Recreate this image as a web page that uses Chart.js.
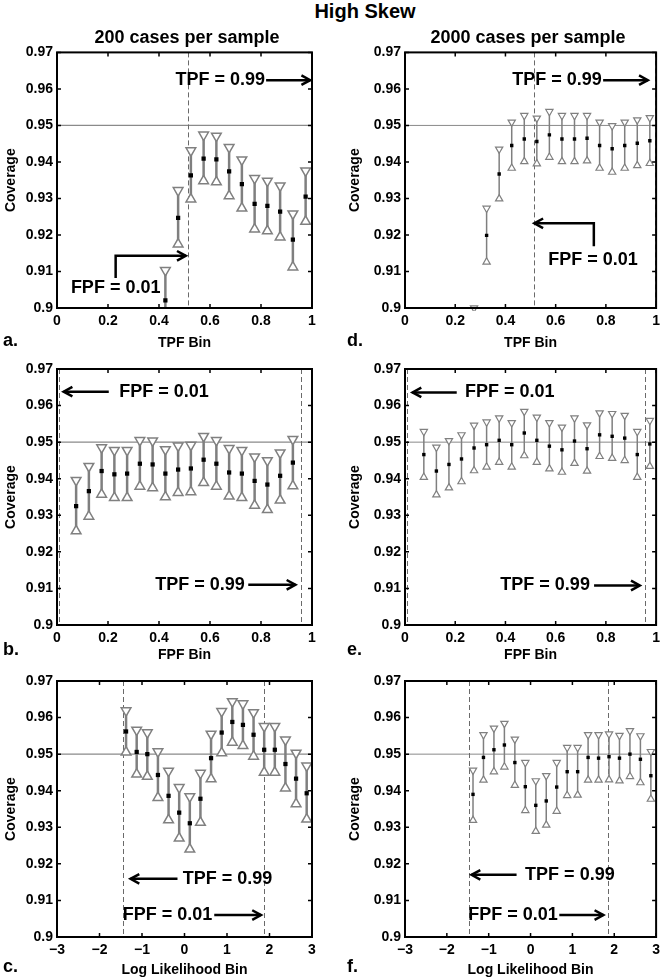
<!DOCTYPE html>
<html>
<head>
<meta charset="utf-8">
<script src="https://cdn.jsdelivr.net/npm/chart.js@4.4.1/dist/chart.umd.min.js"></script>
<style>
  body { margin: 0; background: #fff; }
  #page { position: relative; width: 665px; height: 979px; font-family: "Liberation Sans", Arial, sans-serif; font-weight: bold; }
  canvas { position: absolute; }
  .t { position: absolute; white-space: nowrap; transform: translate(-50%, -50%); color: #000; }
</style>
</head>
<body>
<div id="page">
  <canvas id="pa"></canvas>
  <canvas id="pd"></canvas>
  <canvas id="pb"></canvas>
  <canvas id="pe"></canvas>
  <canvas id="pc"></canvas>
  <canvas id="pf"></canvas>
  <div class="t" style="left:365px;top:11px;font-size:20px">High Skew</div>
  <div class="t" style="left:187px;top:37px;font-size:18px">200 cases per sample</div>
  <div class="t" style="left:528px;top:37px;font-size:18px">2000 cases per sample</div>
</div>
<script>
// tick labels
var yTicks = [0.9, 0.91, 0.92, 0.93, 0.94, 0.95, 0.96, 0.97]
var yLabels = ['0.9', '0.91', '0.92', '0.93', '0.94', '0.95', '0.96', '0.97']
var binTicks = [0, 0.2, 0.4, 0.6, 0.8, 1]
var binLabels = ['0', '0.2', '0.4', '0.6', '0.8', '1']
var llTicks = [-3, -2, -1, 0, 1, 2, 3]
var llLabels = ['\u22123', '\u22122', '\u22121', '0', '1', '2', '3']

// bin centres
var aBins = [0.425, 0.475, 0.525, 0.575, 0.625, 0.675, 0.725, 0.775, 0.825, 0.875, 0.925, 0.975]
var dBins = [0.275, 0.325, 0.375, 0.425, 0.475, 0.525, 0.575, 0.625, 0.675, 0.725, 0.775, 0.825, 0.875, 0.925, 0.975]
var bBins = [0.075, 0.125, 0.175, 0.225, 0.275, 0.325, 0.375, 0.425, 0.475, 0.525, 0.575, 0.625, 0.675, 0.725, 0.775, 0.825, 0.875, 0.925]
var eBins = [0.075, 0.125, 0.175, 0.225, 0.275, 0.325, 0.375, 0.425, 0.475, 0.525, 0.575, 0.625, 0.675, 0.725, 0.775, 0.825, 0.875, 0.925, 0.975]
var llBins = [-1.375, -1.125, -0.875, -0.625, -0.375, -0.125, 0.125, 0.375, 0.625, 0.875, 1.125, 1.375, 1.625, 1.875, 2.125, 2.375, 2.625, 2.875]

// a. 200 cases, TPF bin
var aCov = [0.9021, 0.9247, 0.9363, 0.9409, 0.9407, 0.9374, 0.9339, 0.9285, 0.9280, 0.9264, 0.9187, 0.9305]
var aUp = [0.9103, 0.9322, 0.9431, 0.9474, 0.9471, 0.9440, 0.9406, 0.9355, 0.9348, 0.9335, 0.9258, 0.9376]
var aLo = [0.8940, 0.9175, 0.9298, 0.9348, 0.9345, 0.9307, 0.9273, 0.9216, 0.9211, 0.9194, 0.9112, 0.9237]
// d. 2000 cases, TPF bin
var dCov = [0.8930, 0.9199, 0.9367, 0.9445, 0.9463, 0.9456, 0.9474, 0.9463, 0.9463, 0.9465, 0.9445, 0.9436, 0.9445, 0.9451, 0.9458]
var dUp = [0.9000, 0.9273, 0.9435, 0.9509, 0.9527, 0.9520, 0.9538, 0.9527, 0.9527, 0.9527, 0.9509, 0.9499, 0.9509, 0.9515, 0.9521]
var dLo = [0.8860, 0.9126, 0.9299, 0.9383, 0.9401, 0.9395, 0.9413, 0.9401, 0.9401, 0.9403, 0.9383, 0.9372, 0.9383, 0.9390, 0.9396]
// b. 200 cases, FPF bin
var bCov = [0.9325, 0.9366, 0.9421, 0.9412, 0.9414, 0.9441, 0.9439, 0.9414, 0.9425, 0.9428, 0.9452, 0.9441, 0.9417, 0.9414, 0.9394, 0.9384, 0.9408, 0.9444]
var bUp = [0.9396, 0.9434, 0.9485, 0.9478, 0.9478, 0.9505, 0.9504, 0.9480, 0.9490, 0.9492, 0.9516, 0.9505, 0.9483, 0.9478, 0.9460, 0.9450, 0.9471, 0.9508]
var bLo = [0.9257, 0.9297, 0.9357, 0.9348, 0.9348, 0.9379, 0.9375, 0.9350, 0.9362, 0.9364, 0.9389, 0.9379, 0.9352, 0.9348, 0.9327, 0.9315, 0.9341, 0.9380]
// e. 2000 cases, FPF bin
var eCov = [0.9466, 0.9421, 0.9439, 0.9454, 0.9484, 0.9493, 0.9505, 0.9493, 0.9525, 0.9505, 0.9489, 0.9479, 0.9503, 0.9482, 0.9520, 0.9516, 0.9511, 0.9466, 0.9495]
var eUp = [0.9529, 0.9486, 0.9504, 0.9520, 0.9546, 0.9555, 0.9566, 0.9553, 0.9584, 0.9568, 0.9553, 0.9541, 0.9566, 0.9547, 0.9580, 0.9578, 0.9573, 0.9529, 0.9559]
var eLo = [0.9404, 0.9356, 0.9375, 0.9392, 0.9422, 0.9432, 0.9445, 0.9432, 0.9463, 0.9445, 0.9427, 0.9418, 0.9442, 0.9421, 0.9461, 0.9456, 0.9450, 0.9404, 0.9434]
// c. 200 cases, log likelihood bin
var cCov = [0.9562, 0.9506, 0.9500, 0.9443, 0.9386, 0.9340, 0.9311, 0.9378, 0.9489, 0.9559, 0.9588, 0.9580, 0.9553, 0.9512, 0.9512, 0.9473, 0.9433, 0.9393]
var cUp = [0.9619, 0.9566, 0.9559, 0.9507, 0.9454, 0.9409, 0.9384, 0.9448, 0.9555, 0.9617, 0.9644, 0.9638, 0.9614, 0.9576, 0.9576, 0.9539, 0.9503, 0.9468]
var cLo = [0.9505, 0.9445, 0.9439, 0.9381, 0.9320, 0.9270, 0.9240, 0.9313, 0.9432, 0.9503, 0.9532, 0.9523, 0.9494, 0.9450, 0.9450, 0.9407, 0.9364, 0.9322]
// f. 2000 cases, log likelihood bin
var fCov = [0.9390, 0.9491, 0.9512, 0.9525, 0.9477, 0.9411, 0.9360, 0.9372, 0.9410, 0.9452, 0.9452, 0.9491, 0.9489, 0.9493, 0.9489, 0.9500, 0.9486, 0.9441]
var fUp = [0.9456, 0.9553, 0.9571, 0.9584, 0.9541, 0.9477, 0.9427, 0.9441, 0.9477, 0.9518, 0.9518, 0.9553, 0.9553, 0.9555, 0.9551, 0.9564, 0.9550, 0.9507]
var fLo = [0.9319, 0.9429, 0.9452, 0.9465, 0.9415, 0.9346, 0.9289, 0.9306, 0.9344, 0.9387, 0.9388, 0.9429, 0.9429, 0.9430, 0.9427, 0.9439, 0.9422, 0.9377]

var FONT = '"Liberation Sans", Arial, sans-serif'
var leftStyle = { bar: 2.5, tri: 5.6, triW: 1.5, sq: 3, line95: 1.2 }
var rightStyle = { bar: 1.5, tri: 4.2, triW: 1.2, sq: 2.4, line95: 1 }

var rows = [
    { top: 40, h: 310, padTop: 12, xTitleY: 303, letterY: 301 },
    { top: 352, h: 312, padTop: 17, xTitleY: 303, letterY: 298 },
    { top: 664, h: 315, padTop: 17, xTitleY: 306, letterY: 303 }
]

var panels = [
    { id: 'pa', row: 0, right: false, letter: 'a.', xTitle: 'TPF Bin', ll: false, bins: aBins, cov: aCov, up: aUp, lo: aLo,
      dashed: [0.515, 0.997],
      notes: [{ text: 'TPF = 0.99', x: 0.64, y: 0.9624 }, { text: 'FPF = 0.01', x: 0.23, y: 0.9055 }],
      arrows: [[[0.82, 0.9624], [0.993, 0.9624]], [[0.23, 0.9082], [0.23, 0.9143], [0.505, 0.9143]]] },
    { id: 'pd', row: 0, right: true, letter: 'd.', xTitle: 'TPF Bin', ll: false, bins: dBins, cov: dCov, up: dUp, lo: dLo,
      dashed: [0.512, 0.995],
      notes: [{ text: 'TPF = 0.99', x: 0.605, y: 0.9624 }, { text: 'FPF = 0.01', x: 0.749, y: 0.9132 }],
      arrows: [[[0.789, 0.9624], [0.967, 0.9624]], [[0.752, 0.9169], [0.752, 0.9232], [0.515, 0.9232]]] },
    { id: 'pb', row: 1, right: false, letter: 'b.', xTitle: 'FPF Bin', ll: false, bins: bBins, cov: bCov, up: bUp, lo: bLo,
      dashed: [0.007, 0.957],
      notes: [{ text: 'FPF = 0.01', x: 0.42, y: 0.9638 }, { text: 'TPF = 0.99', x: 0.561, y: 0.911 }],
      arrows: [[[0.203, 0.9638], [0.026, 0.9638]], [[0.75, 0.911], [0.935, 0.911]]] },
    { id: 'pe', row: 1, right: true, letter: 'e.', xTitle: 'FPF Bin', ll: false, bins: eBins, cov: eCov, up: eUp, lo: eLo,
      dashed: [0.007, 0.957],
      notes: [{ text: 'FPF = 0.01', x: 0.417, y: 0.9636 }, { text: 'TPF = 0.99', x: 0.558, y: 0.9108 }],
      arrows: [[[0.206, 0.9636], [0.03, 0.9636]], [[0.753, 0.9108], [0.935, 0.9108]]] },
    { id: 'pc', row: 2, right: false, letter: 'c.', xTitle: 'Log Likelihood Bin', ll: true, bins: llBins, cov: cCov, up: cUp, lo: cLo,
      dashed: [-1.45, 1.87],
      notes: [{ text: 'TPF = 0.99', x: 1.01, y: 0.9159 }, { text: 'FPF = 0.01', x: -0.40, y: 0.906 }],
      arrows: [[[-0.165, 0.9159], [-1.27, 0.9159]], [[0.70, 0.906], [1.80, 0.906]]] },
    { id: 'pf', row: 2, right: true, letter: 'f.', xTitle: 'Log Likelihood Bin', ll: true, bins: llBins, cov: fCov, up: fUp, lo: fLo,
      dashed: [-1.47, 1.85],
      notes: [{ text: 'TPF = 0.99', x: 0.94, y: 0.917 }, { text: 'FPF = 0.01', x: -0.42, y: 0.906 }],
      arrows: [[[-0.334, 0.917], [-1.41, 0.917]], [[0.687, 0.906], [1.74, 0.906]]] }
]

function pts(xs, ys) {
    var out = []
    for (var i = 0; i < xs.length; i++) {
        out.push({ x: xs[i], y: ys[i] })
    }
    return out
}

function drawArrow(ctx, xs, ys, a) {
    var p = a.map(function (q) { return [xs.getPixelForValue(q[0]), ys.getPixelForValue(q[1])] })
    ctx.beginPath()
    ctx.moveTo(p[0][0], p[0][1])
    for (var i = 1; i < p.length; i++) ctx.lineTo(p[i][0], p[i][1])
    ctx.stroke()
    var e = p[p.length - 1], s = p[p.length - 2]
    var ang = Math.atan2(e[1] - s[1], e[0] - s[0])
    ctx.beginPath()
    ctx.moveTo(e[0] - 10 * Math.cos(ang - 0.5), e[1] - 10 * Math.sin(ang - 0.5))
    ctx.lineTo(e[0], e[1])
    ctx.lineTo(e[0] - 10 * Math.cos(ang + 0.5), e[1] - 10 * Math.sin(ang + 0.5))
    ctx.stroke()
}

function makePanel(p) {
    var r = rows[p.row]
    var st = p.right ? rightStyle : leftStyle
    var cv = document.getElementById(p.id)
    cv.width = 330
    cv.height = r.h
    cv.style.left = (p.right ? 335 : 0) + 'px'
    cv.style.top = r.top + 'px'
    var yW = p.right ? 70 : 57
    var padRight = p.right ? 5 : 18
    var xTicks = p.ll ? llTicks : binTicks
    var xLabels = p.ll ? llLabels : binLabels

    var panelPlugin = {
        id: 'panel' + p.id,
        beforeDatasetsDraw: function (chart) {
            var ctx = chart.ctx, a = chart.chartArea, xs = chart.scales.x, ys = chart.scales.y
            ctx.save()
            ctx.beginPath()
            ctx.rect(a.left, a.top, a.right - a.left, a.bottom - a.top)
            ctx.clip()
            var y95 = ys.getPixelForValue(0.95)
            ctx.strokeStyle = '#8a8a8a'
            ctx.lineWidth = st.line95
            ctx.beginPath()
            ctx.moveTo(a.left, y95)
            ctx.lineTo(a.right, y95)
            ctx.stroke()
            ctx.setLineDash([5, 3])
            ctx.strokeStyle = '#6a6a6a'
            ctx.lineWidth = 1
            p.dashed.forEach(function (v) {
                var x = Math.round(xs.getPixelForValue(v)) + 0.5
                ctx.beginPath()
                ctx.moveTo(x, a.top)
                ctx.lineTo(x, a.bottom)
                ctx.stroke()
            })
            ctx.setLineDash([])
            ctx.strokeStyle = '#7f7f7f'
            ctx.lineWidth = st.bar
            for (var i = 0; i < p.bins.length; i++) {
                var x = xs.getPixelForValue(p.bins[i])
                ctx.beginPath()
                ctx.moveTo(x, ys.getPixelForValue(p.lo[i]))
                ctx.lineTo(x, ys.getPixelForValue(p.up[i]))
                ctx.stroke()
            }
            ctx.restore()
        },
        afterDraw: function (chart) {
            var ctx = chart.ctx, a = chart.chartArea, xs = chart.scales.x, ys = chart.scales.y
            ctx.save()
            ctx.strokeStyle = '#000'
            ctx.lineWidth = 1.5
            yTicks.forEach(function (v) {
                var y = ys.getPixelForValue(v)
                ctx.beginPath()
                ctx.moveTo(a.left, y); ctx.lineTo(a.left + 4, y)
                ctx.moveTo(a.right, y); ctx.lineTo(a.right - 4, y)
                ctx.stroke()
            })
            xTicks.forEach(function (v) {
                var x = xs.getPixelForValue(v)
                ctx.beginPath()
                ctx.moveTo(x, a.bottom); ctx.lineTo(x, a.bottom - 4)
                ctx.moveTo(x, a.top); ctx.lineTo(x, a.top + 4)
                ctx.stroke()
            })
            ctx.lineWidth = 2
            ctx.strokeRect(a.left, a.top, a.right - a.left, a.bottom - a.top)

            ctx.fillStyle = '#000'
            ctx.font = 'bold 18px ' + FONT
            ctx.textAlign = 'center'
            ctx.textBaseline = 'middle'
            p.notes.forEach(function (n) {
                ctx.fillText(n.text, xs.getPixelForValue(n.x), ys.getPixelForValue(n.y))
            })
            ctx.lineWidth = 2.5
            p.arrows.forEach(function (ar) { drawArrow(ctx, xs, ys, ar) })

            ctx.font = 'bold 14px ' + FONT
            ctx.fillText(p.xTitle, (a.left + a.right) / 2, r.xTitleY)
            ctx.save()
            ctx.translate(p.right ? 20 : 11, (a.top + a.bottom) / 2)
            ctx.rotate(-Math.PI / 2)
            ctx.fillText('Coverage', 0, 0)
            ctx.restore()

            ctx.font = 'bold 18px ' + FONT
            ctx.textAlign = 'left'
            ctx.fillText(p.letter, p.right ? 12 : 3, r.letterY)
            ctx.restore()
        }
    }

    new Chart(cv, {
        type: 'scatter',
        data: {
            datasets: [
                { data: pts(p.bins, p.lo), pointStyle: 'triangle', pointRadius: st.tri, pointBorderWidth: st.triW,
                  pointBorderColor: '#808080', pointBackgroundColor: '#fff', clip: 3 },
                { data: pts(p.bins, p.up), pointStyle: 'triangle', pointRotation: 180, pointRadius: st.tri, pointBorderWidth: st.triW,
                  pointBorderColor: '#808080', pointBackgroundColor: '#fff', clip: 3 },
                { data: pts(p.bins, p.cov), pointStyle: 'rect', pointRadius: st.sq, pointBorderWidth: 0,
                  pointBackgroundColor: '#000', pointBorderColor: '#000', clip: 0 }
            ]
        },
        options: {
            responsive: false,
            animation: false,
            devicePixelRatio: 1,
            events: [],
            layout: { padding: { top: r.padTop, right: padRight, left: 0, bottom: 0 } },
            plugins: { legend: { display: false }, tooltip: { enabled: false } },
            scales: {
                x: {
                    type: 'linear',
                    min: xTicks[0],
                    max: xTicks[xTicks.length - 1],
                    afterBuildTicks: function (s) { s.ticks = xTicks.map(function (v) { return { value: v } }) },
                    afterFit: function (s) { s.height = r.h - r.padTop - 256 },
                    grid: { display: false, drawTicks: false },
                    border: { display: false },
                    ticks: {
                        padding: 5,
                        color: '#000',
                        maxRotation: 0,
                        autoSkip: false,
                        font: { family: FONT, size: 14, weight: 'bold' },
                        callback: function (v, i) { return xLabels[i] }
                    }
                },
                y: {
                    type: 'linear',
                    min: 0.9,
                    max: 0.97,
                    afterBuildTicks: function (s) { s.ticks = yTicks.map(function (v) { return { value: v } }) },
                    afterFit: function (s) { s.width = yW },
                    grid: { display: false, drawTicks: false },
                    border: { display: false },
                    ticks: {
                        padding: 4,
                        color: '#000',
                        autoSkip: false,
                        font: { family: FONT, size: 14, weight: 'bold' },
                        callback: function (v, i) { return yLabels[i] }
                    }
                }
            }
        },
        plugins: [panelPlugin]
    })
}

panels.forEach(makePanel)
</script>
</body>
</html>
